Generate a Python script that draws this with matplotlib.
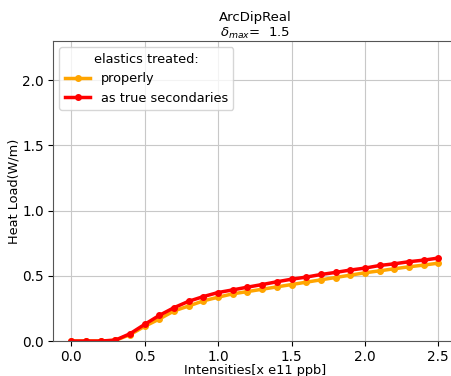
import matplotlib
matplotlib.use('Agg')
import matplotlib.pyplot as plt

# Intensidades e cargas térmicas
intensities = [0.0, 0.1, 0.2, 0.3, 0.4, 0.5, 0.6, 0.7, 0.8, 0.9, 1.0, 1.1, 1.2,
               1.3, 1.4, 1.5, 1.6, 1.7, 1.8, 1.9, 2.0, 2.1, 2.2, 2.3, 2.4, 2.5]
heat_properly = [0.0, 0.0, 0.0, 0.005, 0.049, 0.113, 0.169, 0.231, 0.269, 0.308,
                 0.336, 0.362, 0.379, 0.397, 0.415, 0.433, 0.451, 0.469, 0.487,
                 0.505, 0.523, 0.538, 0.554, 0.569, 0.582, 0.597]
heat_true_sec = [0.0, 0.0, 0.0, 0.007, 0.056, 0.128, 0.197, 0.256, 0.305, 0.341,
                 0.372, 0.392, 0.413, 0.433, 0.454, 0.474, 0.490, 0.510, 0.526,
                 0.544, 0.559, 0.579, 0.592, 0.608, 0.620, 0.636]
labels = ['properly', 'as true secondaries']

fig = plt.figure(figsize=(4.51, 3.76), dpi=100)
ax = fig.add_axes([0.1175, 0.093, 0.895, 0.798])

ax.plot(intensities, heat_properly, '.-', color='orange', lw=2.5, ms=8, label=labels[0])
ax.plot(intensities, heat_true_sec, '.-', color='red', lw=2.5, ms=8, label=labels[1])

ax.set_xlim(-0.125, 2.625)
ax.set_ylim(0, 2.3)
ax.tick_params(labelsize=9.8, pad=3)
ax.set_xlabel('Intensities[x e11 ppb]', fontsize=9.3, labelpad=0)
ax.set_ylabel('Heat Load(W/m)', fontsize=9.3, labelpad=1)
ax.set_title('ArcDipReal\n$\\delta_{max}$=  1.5', fontsize=9.5, pad=3)
ax.grid(True, color='#c8c8c8')
for s in ax.spines.values():
    s.set_color('#555555')
ax.legend(title='elastics treated:', loc='upper left', fontsize=9.3, title_fontsize=9.3)

fig.savefig('out.png', dpi=100)
